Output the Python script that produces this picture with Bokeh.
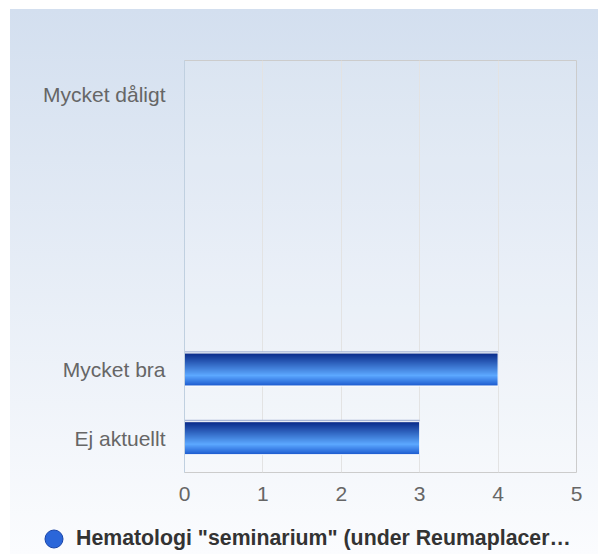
from bokeh.plotting import figure
from bokeh.layouts import column, row
from bokeh.models import (ColumnDataSource, FactorRange, Range1d, FixedTicker,
                          Legend, LegendItem, CDSView, BooleanFilter)
from bokeh.transform import dodge
from bokeh.embed import file_html
from bokeh.resources import INLINE

# ---- data ----
category_labels = ["Mycket dåligt", "", "", "", "Mycket bra", "Ej aktuellt"]
values = [0, 0, 0, 0, 4, 3]
x_ticks = [0, 1, 2, 3, 4, 5]
series_name = 'Hematologi "seminarium" (under Reumaplacer…'

# unique factor keys (blank categories become distinct whitespace strings)
categories = [lab if lab else " " * (i + 1) for i, lab in enumerate(category_labels)]

FONT = "Liberation Sans"

source = ColumnDataSource(dict(cat=categories, val=values))

chart = figure(width=588, height=505,
               y_range=FactorRange(factors=list(reversed(categories))),
               x_range=Range1d(0, 5),
               output_backend="svg", toolbar_location=None,
               min_border_left=174, min_border_right=22,
               min_border_top=51, min_border_bottom=42)
chart.border_fill_alpha = 0
chart.background_fill_color = "white"
chart.background_fill_alpha = 0.12
chart.outline_line_color = "#cccccc"

# ---- gradient bars built from thin strips ----
bar_h = 0.48
n = 33
stops = [(0.0, (8, 40, 135)), (0.68, (92, 168, 255)), (1.0, (26, 88, 205))]


def interp(t):
    for (t0, c0), (t1, c1) in zip(stops[:-1], stops[1:]):
        if t0 <= t <= t1:
            f = (t - t0) / (t1 - t0)
            return "#%02x%02x%02x" % tuple(int(round(a + (b - a) * f)) for a, b in zip(c0, c1))
    return "#%02x%02x%02x" % stops[-1][1]


nonzero = CDSView(filter=BooleanFilter([v > 0 for v in values]))

# top edge shade
chart.hbar(y=dodge("cat", bar_h / 2 + 0.012, range=chart.y_range), left=0, right="val",
           height=0.03, source=source, view=nonzero, fill_color="#a7b5d6", line_color=None)

strip = bar_h / n
for i in range(n):
    t = (i + 0.5) / n
    off = bar_h / 2 - (i + 0.5) * strip
    h = strip * 1.8 if i < n - 1 else strip
    chart.hbar(y=dodge("cat", off - (h - strip) / 2, range=chart.y_range), left=0, right="val",
               height=h, source=source, view=nonzero,
               fill_color=interp(t), line_color=None)

chart.hbar(y="cat", left=0, right="val", height=bar_h, source=source, view=nonzero,
           fill_color=None, line_color="white", line_width=1)

# ---- axes ----
chart.xaxis.ticker = FixedTicker(ticks=x_ticks)
chart.xaxis.axis_line_color = None
chart.xaxis.major_tick_line_color = None
chart.xaxis.minor_tick_line_color = None
chart.xaxis.major_tick_out = 0
chart.xaxis.major_tick_in = 0
chart.xaxis.major_label_standoff = 14
chart.xaxis.major_label_text_font = FONT
chart.xaxis.major_label_text_font_size = "21px"
chart.xaxis.major_label_text_color = "#666666"

chart.yaxis.axis_line_color = "#c0d0e0"
chart.yaxis.major_tick_line_color = None
chart.yaxis.minor_tick_line_color = None
chart.yaxis.major_tick_out = 0
chart.yaxis.major_tick_in = 0
chart.yaxis.major_label_standoff = 19
chart.yaxis.major_label_text_font = FONT
chart.yaxis.major_label_text_font_size = "21px"
chart.yaxis.major_label_text_color = "#666666"

chart.xgrid.grid_line_color = "#e3e3e3"
chart.ygrid.grid_line_color = None

# ---- legend strip (separate figure so the legend is not clipped) ----
leg_fig = figure(width=588, height=40, x_range=Range1d(0, 1), y_range=Range1d(0, 1),
                 x_axis_location=None, y_axis_location=None,
                 output_backend="svg", toolbar_location=None,
                 min_border=0, min_border_left=0, min_border_right=0,
                 min_border_top=0, min_border_bottom=0)
leg_fig.border_fill_alpha = 0
leg_fig.background_fill_alpha = 0
leg_fig.outline_line_color = None
leg_fig.grid.visible = False

# legend proxy (hidden renderer, only its legend glyph is shown)
proxy = leg_fig.scatter(x=[0], y=[0], marker="circle", size=18, visible=False,
                        fill_color="#2b66d9", line_color="#1a45a8")
legend = Legend(items=[LegendItem(label=series_name, renderers=[proxy])],
                location=(21, -7), orientation="horizontal",
                glyph_width=45, glyph_height=45, label_standoff=0,
                padding=0, margin=0, spacing=0,
                border_line_color=None, background_fill_alpha=0,
                inactive_fill_alpha=0,
                label_text_font=FONT, label_text_font_size="21.3px",
                label_text_font_style="bold", label_text_color="#333333")
leg_fig.add_layout(legend, "center")

p = column(chart, row(leg_fig), spacing=0)
p.margin = (9, 0, 0, 10)
p.styles = {"background": "linear-gradient(180deg, #d3dfef 0%, #fbfcfe 100%)"}

open("out.html", "w").write(file_html(p, INLINE))
